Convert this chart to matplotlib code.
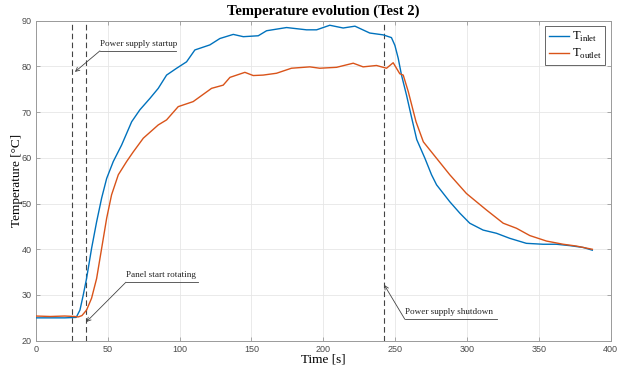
import matplotlib
matplotlib.use("Agg")
import matplotlib.pyplot as plt

# ---- data ----
t_inlet = [0, 10, 20, 28, 30.6, 32.9, 35.2, 38.7, 42.2, 45.7, 49.2, 53.8, 59.6, 66.6, 72.3,
           79.3, 85.1, 90.9, 97.9, 104.8, 110.6, 121, 128, 137.3, 144.3, 154.7, 160.5,
           174.4, 188.3, 195.3, 204.5, 213.8, 222, 232.3, 241.6, 247.4, 249.8, 252.1,
           254.4, 257.9, 261.0, 265.0, 270.7, 275.3, 278.8, 288, 295, 301.9, 311.2, 320.5,
           329.7, 341.3, 352.9, 362.2, 371.5, 380.8, 387.2]
T_inlet = [25.0, 25.0, 25.0, 25.1, 26.7, 30.0, 33.6, 40.2, 46.0, 51.2, 55.5, 59.2, 62.8, 67.9,
           70.5, 73.0, 75.2, 78.1, 79.6, 81.0, 83.6, 84.7, 86.1, 87.0, 86.5, 86.7, 87.8,
           88.5, 88.0, 88.0, 89.0, 88.4, 88.8, 87.3, 86.9, 86.3, 84.6, 81.8, 78.1, 73.7,
           69.4, 64.0, 59.9, 56.3, 54.1, 50.4, 47.9, 45.7, 44.2, 43.5, 42.4, 41.3, 41.1,
           41.1, 40.8, 40.4, 39.8]

t_outlet = [0, 10, 20, 27, 29.4, 32, 35.2, 38.7, 42.2, 45.7, 49.2, 52.6, 57.3, 63.1, 67.7,
            74.7, 85.1, 90.9, 99, 109.4, 122.2, 130.3, 135, 145.4, 151.2, 158.1, 167.4,
            177.8, 190.6, 197.5, 209.2, 220.8, 227.7, 237, 244, 248.6, 253.2, 255.6,
            259.1, 264.5, 269.6, 278.8, 288, 299.6, 313.5, 325.2, 334.4, 343.7, 355.3,
            366.9, 376.2, 387.2]
T_outlet = [25.4, 25.3, 25.4, 25.3, 25.2, 25.5, 26.7, 29.3, 33.6, 40.2, 46.8, 51.9, 56.3, 59.2,
            61.3, 64.3, 67.2, 68.3, 71.2, 72.3, 75.2, 75.9, 77.6, 78.7, 78.0, 78.1, 78.5,
            79.6, 79.9, 79.6, 79.8, 80.7, 79.9, 80.2, 79.6, 80.8, 78.4, 78.1, 74.5, 67.9,
            63.5, 59.9, 56.3, 52.2, 48.6, 45.7, 44.6, 43.0, 41.8, 41.1, 40.7, 40.0]

event_times = [25, 35, 242.4]
x_ticks = [0, 50, 100, 150, 200, 250, 300, 350, 400]
y_ticks = [20, 30, 40, 50, 60, 70, 80, 90]

# ---- figure ----
fig = plt.figure(figsize=(6.29, 3.72), dpi=100)
ax = fig.add_axes([0.0572, 0.0841, 0.9137, 0.8603])

blue = '#0072BD'
orange = '#D95319'
serif = 'Liberation Serif'

ax.plot(t_inlet, T_inlet, color=blue, lw=1.0, label=r'T$_{\mathregular{inlet}}$', zorder=3)
ax.plot(t_outlet, T_outlet, color=orange, lw=1.0, label=r'T$_{\mathregular{outlet}}$', zorder=3)

for xv in event_times:
    ax.axvline(xv, color='#444444', lw=0.8, ls=(0, (5, 3)), zorder=2)

ax.set_xlim(0, 400)
ax.set_ylim(20, 90)
ax.set_xticks(x_ticks)
ax.set_yticks(y_ticks)
ax.grid(True, color='#e6e6e6', lw=0.6, zorder=0)
ax.set_axisbelow(True)
ax.tick_params(direction='in', length=3, width=0.6, color='#9a9a9a',
               labelsize=6.5, labelcolor='#4a4a4a', top=True, right=True, pad=3)
for lab in ax.get_xticklabels() + ax.get_yticklabels():
    lab.set_family('Liberation Sans')
for s in ax.spines.values():
    s.set_color('#9a9a9a')
    s.set_linewidth(0.7)

ax.set_title('Temperature evolution (Test 2)', fontfamily=serif, fontweight='bold',
             fontsize=10.5, pad=4)
ax.set_xlabel('Time [s]', fontfamily=serif, fontsize=9.5, labelpad=0)
ax.set_ylabel('Temperature [°C]', fontfamily=serif, fontsize=9.5)
ax.yaxis.set_label_coords(-0.023, 0.5)

# annotations (MATLAB textarrow style with underline)
def note(text, head, tail, line_end):
    ax.annotate('', xy=head, xytext=tail,
                arrowprops=dict(arrowstyle='->', color='#444444', lw=0.6,
                                shrinkA=0, shrinkB=0, mutation_scale=7))
    ax.plot([tail[0], line_end], [tail[1], tail[1]], color='#444444', lw=0.6, zorder=4)
    ax.text(tail[0] + 0.3, tail[1] + 0.6, text, fontfamily=serif, fontsize=6.6,
            ha='left', va='bottom', color='#222222')

note('Power supply startup', (27.1, 78.8), (44.5, 83.4), 97.5)
note('Panel start rotating', (35, 24.1), (62.6, 32.8), 113)
note('Power supply shutdown', (242.4, 32.2), (256.7, 24.7), 321)

leg = ax.legend(loc='upper right', prop={'family': serif, 'size': 9},
                fancybox=False, edgecolor='#666666', framealpha=1,
                handlelength=1.6, handletextpad=0.2, borderpad=0.3,
                labelspacing=0.25, borderaxespad=0.45)
leg.get_frame().set_linewidth(0.7)

fig.savefig('out.png', dpi=100)
